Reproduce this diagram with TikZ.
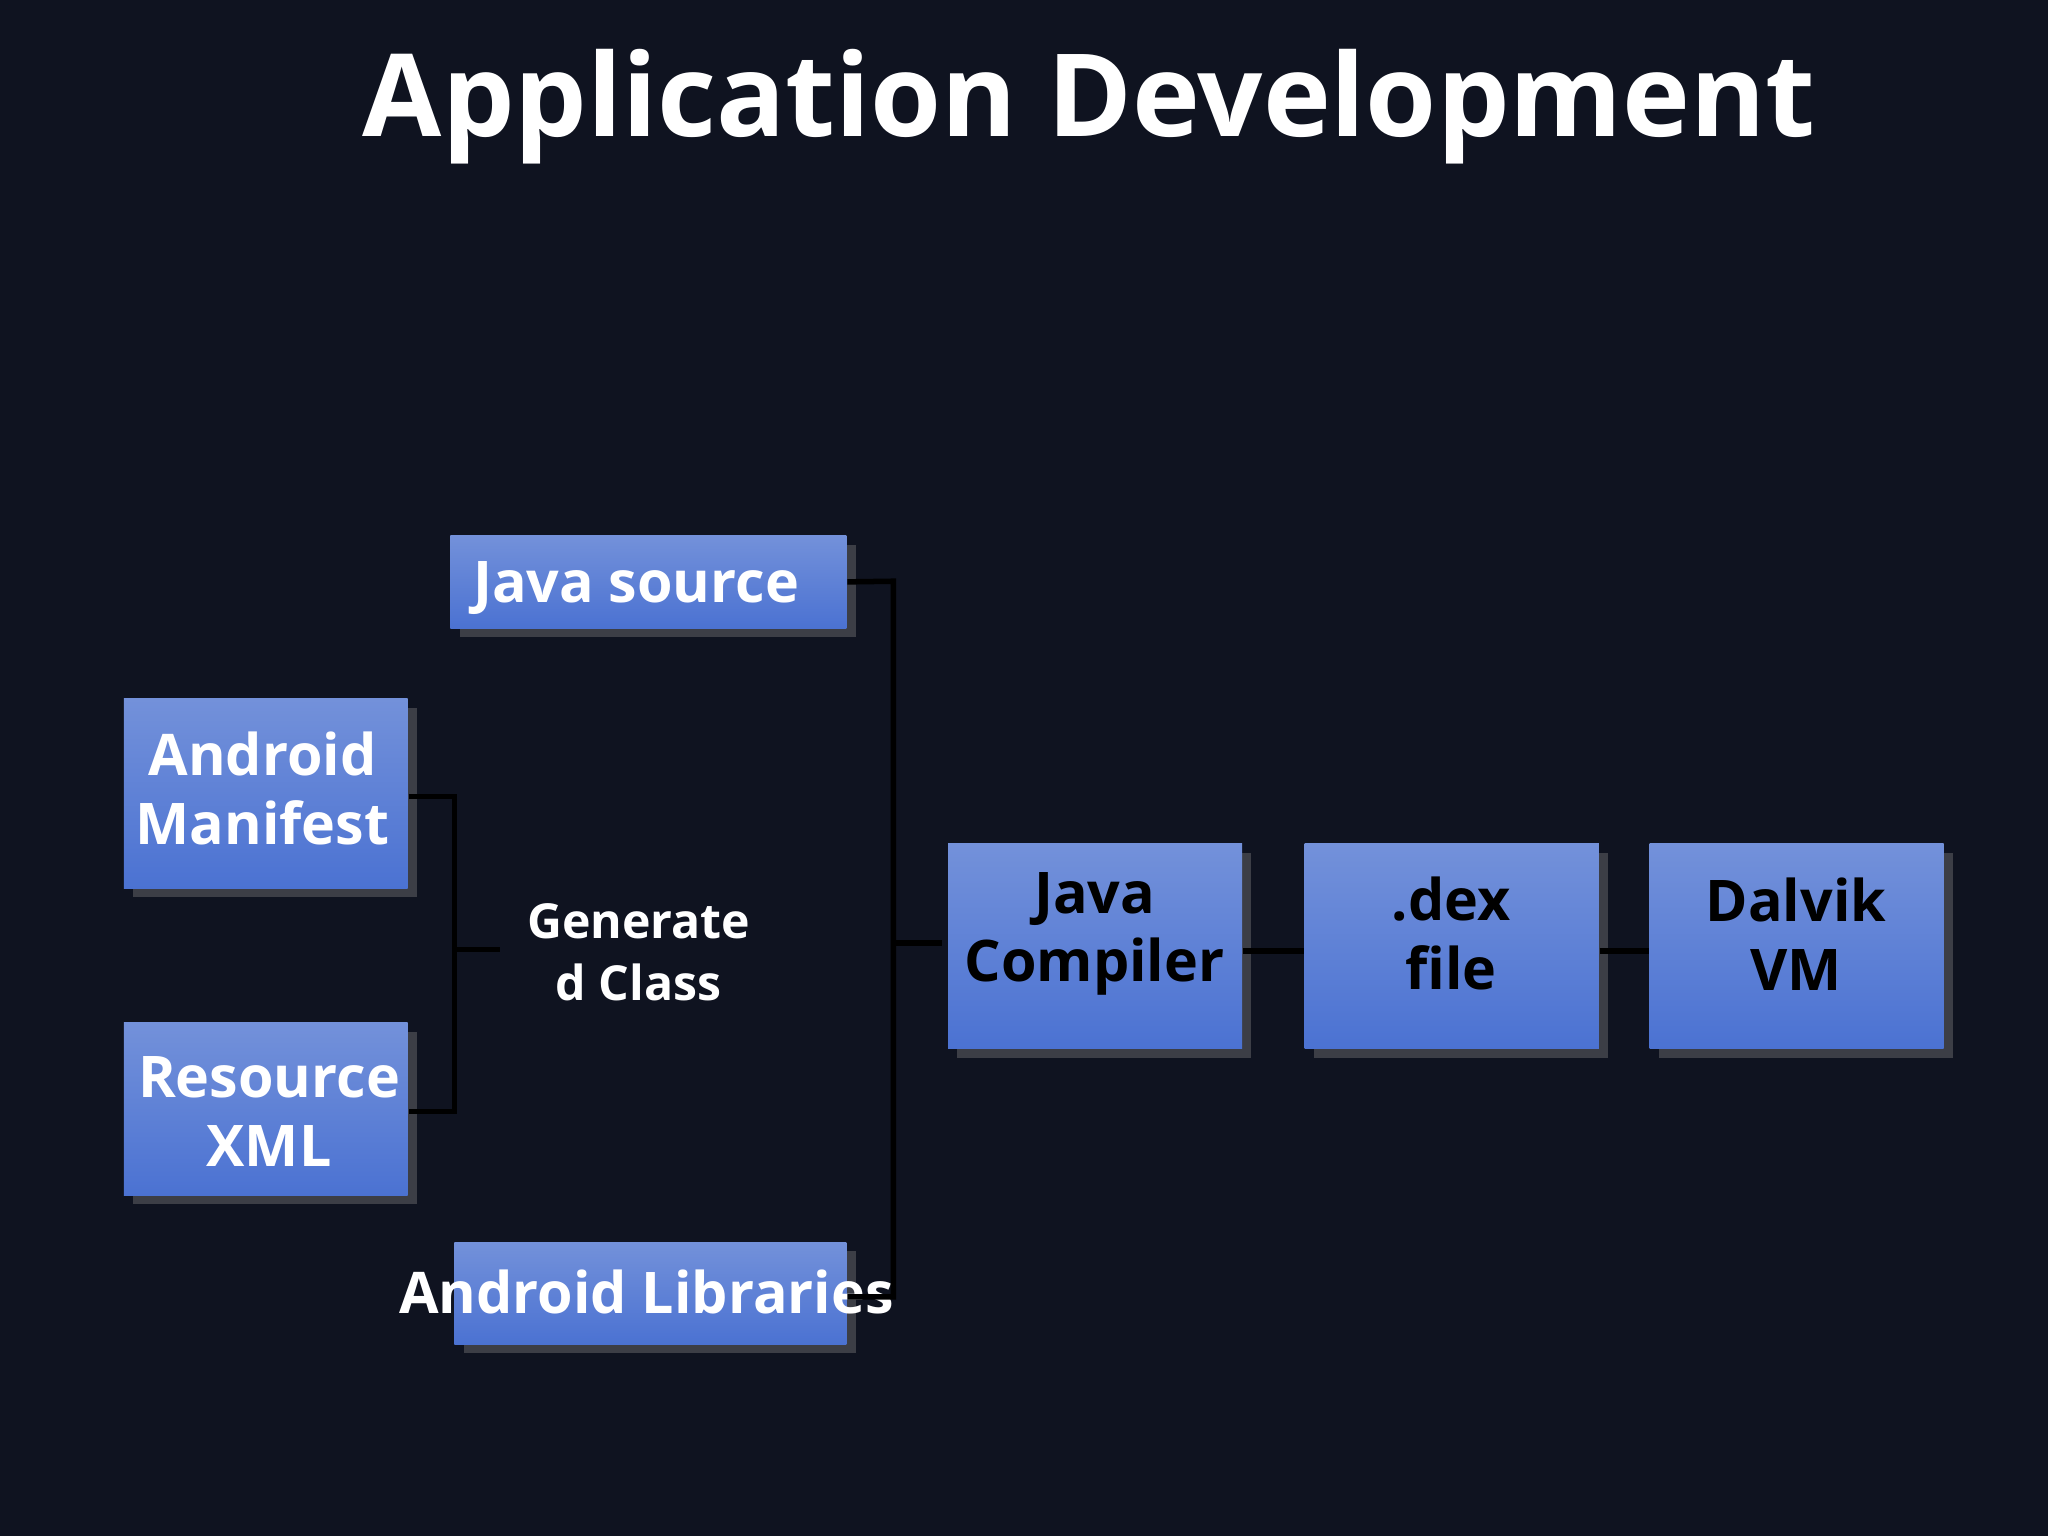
\documentclass[tikz,border=0pt]{standalone}
\usepackage{fontspec}
\setmainfont{Open Sans}
\usetikzlibrary{shadows}
\definecolor{bg}{HTML}{0F1320}
\definecolor{btop}{HTML}{7391DA}
\definecolor{bbot}{HTML}{4B72D2}
\tikzset{
 box/.style={draw=none,top color=btop,bottom color=bbot,inner sep=0pt,drop shadow={shadow xshift=2pt,shadow yshift=-2pt,opacity=0.4}},
 wlab/.style={font=\bfseries\fontsize{12.5}{15}\selectfont,text=white,align=center,inner sep=0pt},
 blab/.style={font=\bfseries\fontsize{12.5}{15}\selectfont,text=black,align=center,inner sep=0pt},
 conn/.style={draw=black,line width=1.2pt}
}
\begin{document}
\begin{tikzpicture}[x=0.01cm,y=-0.01cm]
\fill[bg] (0,0) rectangle (1568,1176);
\useasboundingbox (0,0) rectangle (1568,1176);
\node[font=\bfseries\fontsize{25}{30}\selectfont,text=white] (title) at (834,82) {Application Development};
% boxes
\node[box,minimum width=3.03cm,minimum height=0.71cm] (js) at (496.5,445.5) {};
\node[box,minimum width=2.17cm,minimum height=1.45cm] (am) at (203.5,607.5) {};
\node[box,minimum width=2.17cm,minimum height=1.32cm] (rx) at (203.5,849) {};
\node[box,minimum width=3.0cm,minimum height=0.78cm] (al) at (498,990) {};
\node[box,minimum width=2.25cm,minimum height=1.57cm] (jc) at (838.5,724.5) {};
\node[box,minimum width=2.25cm,minimum height=1.57cm] (dx) at (1111.5,724.5) {};
\node[box,minimum width=2.25cm,minimum height=1.57cm] (dv) at (1375.5,724.5) {};
% labels
\node[wlab] (jsl) at (487,450) {Java source};
\node[wlab] (aml) at (201,604) {Android\\Manifest};
\node[wlab] (rxl) at (206,851) {Resource\\XML};
\node[wlab] (all) at (495,989) {Android Libraries};
\node[wlab,font=\bfseries\fontsize{10.5}{13.5}\selectfont] (gc) at (489,729) {Generate\\d Class};
\node[blab] (jcl) at (838,715) {Java\\Compiler};
\node[blab] (dxl) at (1111,715) {.dex\\file};
\node[blab] (dvl) at (1375,715) {Dalvik\\VM};
% connectors
\coordinate (g1) at (383,727);
\coordinate (j1) at (721,722);
\draw[conn] (am.east|-0,610) -- (348,610) -- (348,851) -- (rx.east|-0,851);
\draw[conn] (348,727) -- (g1);
\draw[conn] (js.east) -- (684,445) -- (684,993) -- (al.east|-0,993);
\draw[conn] (684,722) -- (j1);
\draw[conn] (jc.east|-0,728) -- (dx.west|-0,728);
\draw[conn] (dx.east|-0,728) -- (dv.west|-0,728);
\end{tikzpicture}
\end{document}
